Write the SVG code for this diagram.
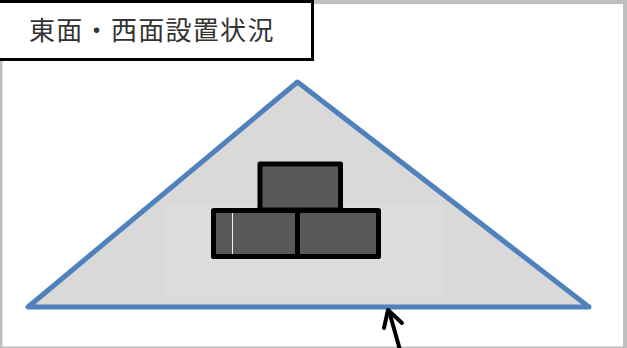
<svg xmlns="http://www.w3.org/2000/svg" width="627" height="348" viewBox="0 0 627 348">
<style>
.brick{fill:#595959;stroke:#000;stroke-width:5;stroke-linejoin:round}
.title{font-family:"Noto Sans CJK JP","Noto Sans CJK SC",sans-serif;font-size:26px;letter-spacing:1.300px;fill:#333}
</style>
<rect width="627" height="348" fill="#bfbfbf"/>
<rect x="2.500" y="4" width="620.500" height="342.500" fill="#fff"/>
<g id="roof">
<path d="M297.500 82L28 307H589Z" fill="#d9d9d9"/>
<rect x="165" y="205" width="277" height="91" fill="#dcdcdc"/>
<path d="M297.500 82L28 307H589Z" fill="none" stroke="#4f81bd" stroke-width="5" stroke-linejoin="round"/>
</g>
<g id="panels">
<rect class="brick" x="260" y="164" width="80.500" height="46"/>
<rect class="brick" x="213.500" y="210.500" width="84" height="46"/>
<rect class="brick" x="297.500" y="210.500" width="81" height="46"/>
<line x1="232.500" y1="213" x2="232.500" y2="254" stroke="#f2f2f2" stroke-width="1"/>
</g>
<g id="title">
<rect x="-2" y="1.500" width="314.500" height="58" fill="#fff" stroke="#000" stroke-width="3"/>
<text class="title" x="29" y="40" lang="ja">東面・西面設置状況</text>
</g>
<g id="connectors" fill="none" stroke="#000" stroke-width="4" stroke-linecap="round" stroke-linejoin="round">
<path d="M400 350L389 311"/>
<path d="M384 328L388 310L402 323"/>
</g>
</svg>
